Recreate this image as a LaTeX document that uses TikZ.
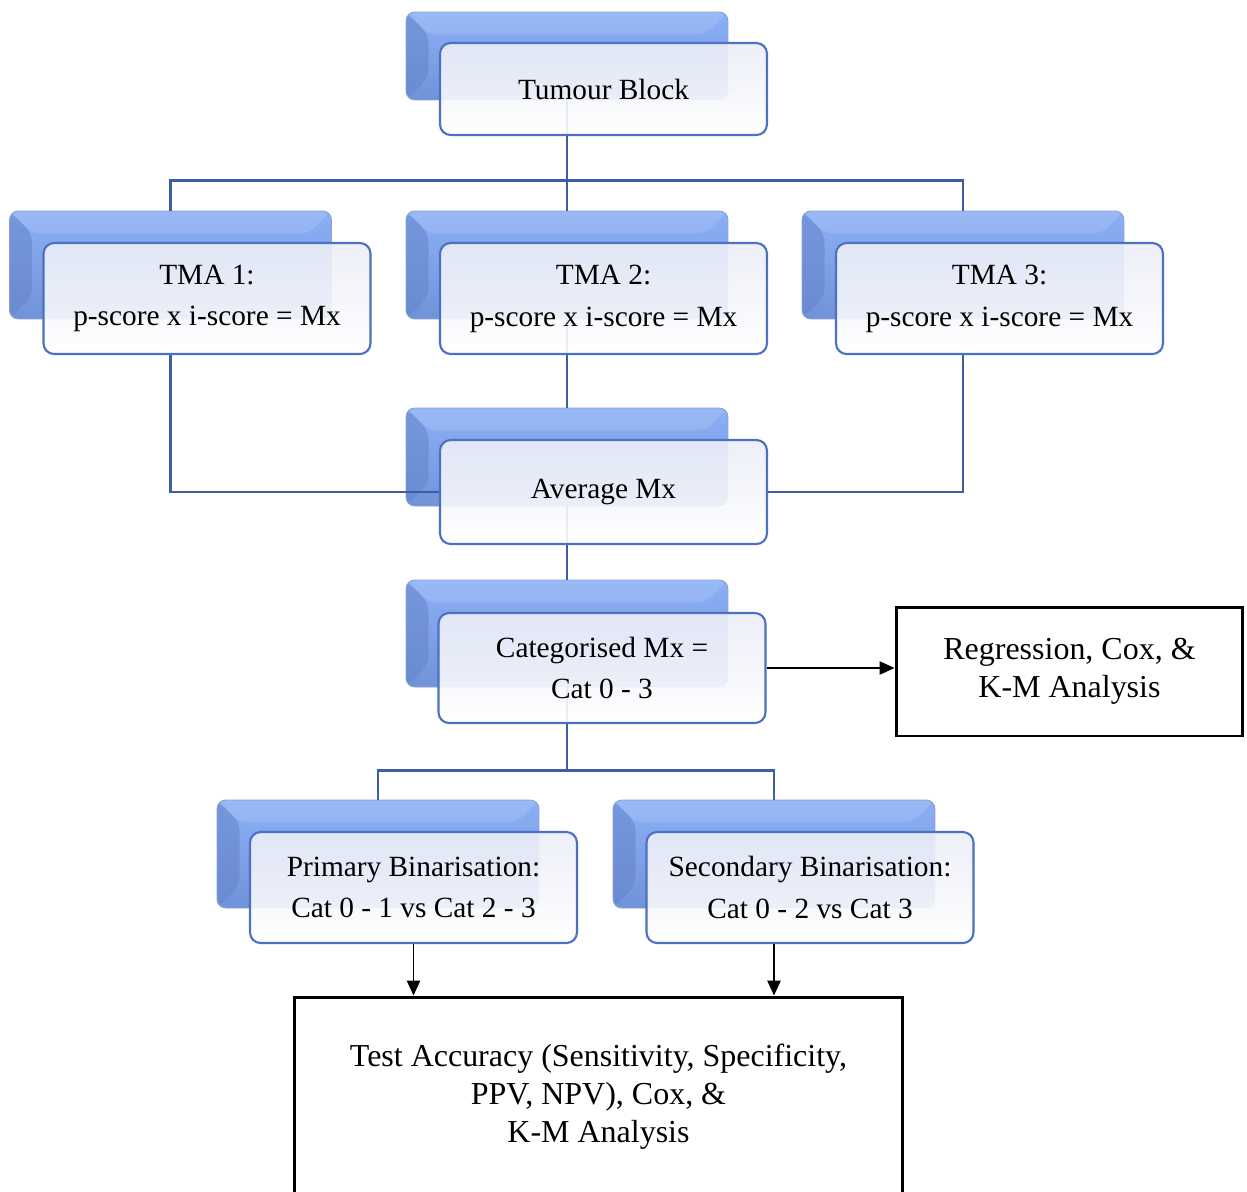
\documentclass[tikz,border=0pt]{standalone}
\usepackage{fontspec}
\setmainfont{Liberation Serif}
\usepackage{tikz}
\usetikzlibrary{arrows.meta, positioning}
\definecolor{linkblue}{HTML}{3D5EA6}
\definecolor{edgeblue}{HTML}{4C70C2}
\definecolor{backtop}{HTML}{8CB0F6}
\definecolor{backbot}{HTML}{7092D8}
\definecolor{backdark}{HTML}{6686CC}
\definecolor{frontfill}{HTML}{ECEEF8}
\tikzstyle{backbox} = [rectangle, rounded corners=5pt, minimum width=6.44cm, minimum height=2.16cm, top color=backtop, bottom color=backbot, draw=backtop!70!gray, line width=0.5pt,
  path picture={\fill[backdark, opacity=0.6] (path picture bounding box.south west) -- (path picture bounding box.north west) -- ([shift={(0.45cm,-0.45cm)}]path picture bounding box.north west) -- ([shift={(0.45cm,0.45cm)}]path picture bounding box.south west) -- cycle;
    \fill[white, opacity=0.12] (path picture bounding box.north west) -- (path picture bounding box.north east) -- ([shift={(-0.45cm,-0.45cm)}]path picture bounding box.north east) -- ([shift={(0.45cm,-0.45cm)}]path picture bounding box.north west) -- cycle;}]
\tikzstyle{frontbox} = [rectangle, rounded corners=6pt, minimum width=6.54cm, minimum height=2.22cm, align=center, draw=edgeblue, line width=1.2pt, top color=frontfill, bottom color=white, fill opacity=0.9, text opacity=1, font=\fontsize{16.7}{23.8}\selectfont]
\tikzstyle{resultbox} = [rectangle, draw=black, line width=1.7pt, fill=white, align=center, font=\fontsize{18.2}{21.6}\selectfont]
\tikzstyle{link} = [draw=linkblue, line width=1.4pt]
\tikzstyle{arrow} = [line width=1.1pt, -{Triangle[length=8.5pt,width=7.5pt]}]

\begin{document}
\begin{tikzpicture}[x=0.02cm, y=-0.02cm]
  \useasboundingbox[fill=white] (0,0) rectangle (1247,1191);

  % back plates
  \node[backbox, minimum height=1.76cm] (tumourbk) at (567,56) {};
  \node[backbox] (tmaAbk) at (170.5,265) {};
  \node[backbox] (tmaBbk) at (567,265) {};
  \node[backbox] (tmaCbk) at (963,265) {};
  \node[backbox, minimum height=1.96cm] (avgbk) at (567,457) {};
  \node[backbox, minimum height=2.14cm] (catbk) at (567,633.5) {};
  \node[backbox] (primbk) at (378,854) {};
  \node[backbox] (secbk) at (774,854) {};

  % tree links, drawn under the front boxes
  \draw[link] (tumourbk.south) -- ++(0,80) coordinate (split);
  \draw[link] (tmaAbk.north) |- (split) -| (tmaCbk.north);
  \draw[link] (split) -- (tmaBbk.north);
  \draw[link] (tmaBbk.south) -- (avgbk.north);
  \draw[link] (avgbk.south) -- (catbk.north);
  \draw[link] (catbk.south) -- ++(0,83) coordinate (fork);
  \draw[link] (primbk.north) |- (fork) -| (secbk.north);

  % front boxes
  \node[frontbox, minimum height=1.84cm] (tumour) at (603.5,89) {Tumour Block};
  \node[frontbox] (tmaA) at (207,298.5) {TMA 1:\\p-score x i-score = Mx};
  \node[frontbox] (tmaB) at (603.5,298.5) {TMA 2:\\p-score x i-score = Mx};
  \node[frontbox] (tmaC) at (999.5,298.5) {TMA 3:\\p-score x i-score = Mx};
  \node[frontbox, minimum height=2.08cm] (avg) at (603.5,492) {Average Mx};
  \node[frontbox, minimum height=2.2cm] (cat) at (602,668) {Categorised Mx =\\Cat 0 - 3};
  \node[frontbox] (prim) at (413.5,887.5) {Primary Binarisation:\\Cat 0 - 1 vs Cat 2 - 3};
  \node[frontbox] (sec) at (810,887.5) {Secondary Binarisation:\\Cat 0 - 2 vs Cat 3};

  \draw[link] (tmaA.south -| tmaAbk.south) |- (avg.west);
  \draw[link] (tmaC.south -| tmaCbk.south) |- (avg.east);

  % outcome boxes
  \node[resultbox, minimum width=6.94cm, minimum height=2.58cm] (regr) at (1069.5,671.5) {Regression, Cox, \&\\K-M Analysis};
  \node[resultbox, minimum width=12.18cm, minimum height=4cm] (acc) at (598.5,1097) {Test Accuracy (Sensitivity, Specificity,\\PPV, NPV), Cox, \&\\K-M Analysis};

  \draw[arrow] (cat.east) -- (cat.east -| regr.west);
  \draw[arrow] (prim.south) -- (prim.south |- acc.north);
  \draw[arrow] (sec.south -| secbk.south) -- (secbk.south |- acc.north);
\end{tikzpicture}
\end{document}
